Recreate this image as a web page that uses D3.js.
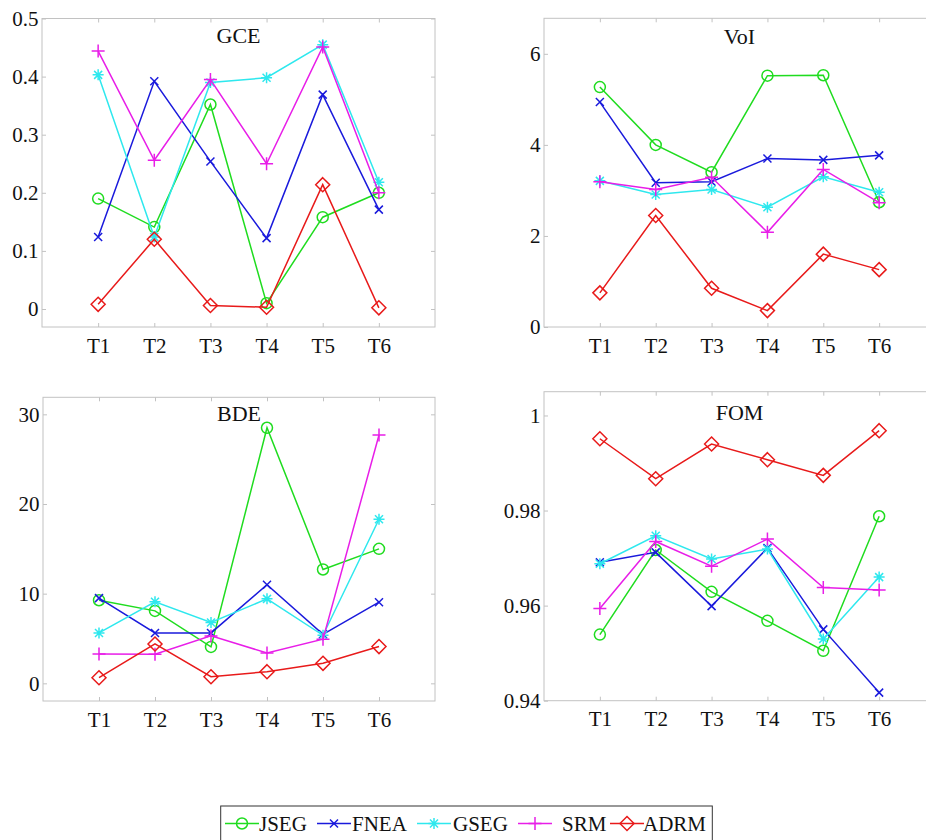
<!DOCTYPE html>
<html>
<head>
<meta charset="utf-8">
<script src="https://cdn.jsdelivr.net/npm/d3@7"></script>
<style>
  body { margin: 0; background: #fff; }
  svg { display: block; }
</style>
</head>
<body>
<svg id="chart" width="926" height="840"></svg>
<script>
// Test images and segmentation methods
const periods = ["T1", "T2", "T3", "T4", "T5", "T6"];
const methods = ["JSEG", "FNEA", "GSEG", "SRM", "ADRM"];

// Global consistency error, one row per method (JSEG, FNEA, GSEG, SRM, ADRM)
const gceValues = [
  [0.190, 0.141, 0.352, 0.010, 0.158, 0.200],
  [0.124, 0.392, 0.254, 0.122, 0.369, 0.171],
  [0.403, 0.124, 0.390, 0.398, 0.455, 0.218],
  [0.444, 0.256, 0.395, 0.250, 0.451, 0.200],
  [0.008, 0.120, 0.006, 0.003, 0.214, 0.002]
];
// Variation of information
const voiValues = [
  [5.27, 4.00, 3.40, 5.52, 5.53, 2.74],
  [4.94, 3.17, 3.19, 3.70, 3.67, 3.77],
  [3.21, 2.91, 3.02, 2.63, 3.30, 2.96],
  [3.19, 3.02, 3.29, 2.08, 3.46, 2.73],
  [0.75, 2.45, 0.85, 0.36, 1.60, 1.26]
];
// Boundary displacement error
const bdeValues = [
  [9.27, 8.08, 4.06, 28.5, 12.7, 15.0],
  [9.50, 5.62, 5.62, 11.0, 5.47, 9.05],
  [5.62, 9.09, 6.78, 9.42, 5.36, 18.3],
  [3.28, 3.24, 5.29, 3.39, 4.92, 27.7],
  [0.63, 4.39, 0.74, 1.30, 2.23, 4.10]
];
// Figure of merit
const fomValues = [
  [0.9539, 0.9717, 0.9629, 0.9568, 0.9505, 0.9788],
  [0.9691, 0.9712, 0.9599, 0.9721, 0.9550, 0.9417],
  [0.9688, 0.9747, 0.9698, 0.9719, 0.9530, 0.9660],
  [0.9594, 0.9735, 0.9683, 0.9740, 0.9638, 0.9633],
  [0.9951, 0.9867, 0.9940, 0.9907, 0.9874, 0.9968]
];

const gceTicks = [0, 0.1, 0.2, 0.3, 0.4, 0.5];
const voiTicks = [0, 2, 4, 6];
const bdeTicks = [0, 10, 20, 30];
const fomTicks = [0.94, 0.96, 0.98, 1];

const colors = ["#1fdc1f", "#1a1adc", "#2ee8ee", "#e81ee8", "#e81a1a"];
const markers = ["circle", "x", "star", "plus", "diamond"];

const serif = "'Liberation Serif', 'Times New Roman', serif";

// Panel geometry
const panels = [
  { title: "GCE", values: gceValues, ticks: gceTicks, domain: [-0.031, 0.5],
    left: 42, right: 435, top: 18.5, bottom: 327, titleY: 43 },
  { title: "VoI", values: voiValues, ticks: voiTicks, domain: [0, 6.78],
    left: 544, right: 935, top: 18.3, bottom: 327, titleY: 44 },
  { title: "BDE", values: bdeValues, ticks: bdeTicks, domain: [-1.97, 31.9],
    left: 43, right: 435, top: 397.3, bottom: 701, titleY: 421 },
  { title: "FOM", values: fomValues, ticks: fomTicks, domain: [0.94, 1.005],
    left: 544, right: 935, top: 391.7, bottom: 700.7, titleY: 419.5 }
];

const svg = d3.select("#chart");
const boxGray = "#c2c2c2";

function markerPath(type, cx, cy) {
  const p = d3.path();
  if (type === "circle") {
    const r = 5.5;
    p.moveTo(cx + r, cy); p.arc(cx, cy, r, 0, 2 * Math.PI);
  } else if (type === "x") {
    const h = 4;
    p.moveTo(cx - h, cy - h); p.lineTo(cx + h, cy + h);
    p.moveTo(cx - h, cy + h); p.lineTo(cx + h, cy - h);
  } else if (type === "plus") {
    const h = 6.5;
    p.moveTo(cx - h, cy); p.lineTo(cx + h, cy);
    p.moveTo(cx, cy - h); p.lineTo(cx, cy + h);
  } else if (type === "star") {
    const h = 5.5, d = 4;
    p.moveTo(cx - h, cy); p.lineTo(cx + h, cy);
    p.moveTo(cx, cy - h); p.lineTo(cx, cy + h);
    p.moveTo(cx - d, cy - d); p.lineTo(cx + d, cy + d);
    p.moveTo(cx - d, cy + d); p.lineTo(cx + d, cy - d);
  } else if (type === "diamond") {
    const h = 7;
    p.moveTo(cx, cy - h); p.lineTo(cx + h, cy); p.lineTo(cx, cy + h);
    p.lineTo(cx - h, cy); p.closePath();
  }
  return p.toString();
}

panels.forEach(panel => {
  const x = d3.scalePoint().domain(periods).range([panel.left, panel.right]).padding(1);
  const y = d3.scaleLinear().domain(panel.domain).range([panel.bottom, panel.top]);
  const g = svg.append("g");

  // Box
  g.append("rect")
    .attr("x", panel.left).attr("y", panel.top)
    .attr("width", panel.right - panel.left).attr("height", panel.bottom - panel.top)
    .attr("fill", "none").attr("stroke", boxGray).attr("stroke-width", 1);

  const styleAxis = sel => {
    sel.select(".domain").remove();
    sel.selectAll(".tick line").attr("stroke", boxGray);
    sel.selectAll(".tick text")
      .style("font-family", serif).style("font-size", "21px").style("fill", "#111");
  };

  g.append("g").attr("transform", `translate(0,${panel.bottom})`)
    .call(d3.axisBottom(x).tickSizeInner(-4).tickSizeOuter(0).tickPadding(10.8))
    .call(styleAxis);
  g.append("g").attr("transform", `translate(0,${panel.top})`)
    .call(d3.axisTop(x).tickSizeInner(-4).tickSizeOuter(0).tickFormat(""))
    .call(styleAxis);
  g.append("g").attr("transform", `translate(${panel.left},0)`)
    .call(d3.axisLeft(y).tickValues(panel.ticks).tickFormat(d => String(d))
      .tickSizeInner(-4).tickSizeOuter(0).tickPadding(3.5))
    .call(styleAxis);
  g.append("g").attr("transform", `translate(${panel.right},0)`)
    .call(d3.axisRight(y).tickValues(panel.ticks).tickFormat("")
      .tickSizeInner(-4).tickSizeOuter(0))
    .call(styleAxis);

  g.append("text")
    .attr("x", (panel.left + panel.right) / 2).attr("y", panel.titleY)
    .attr("text-anchor", "middle")
    .style("font-family", serif).style("font-size", "22px").style("fill", "#111")
    .text(panel.title);

  const line = d3.line().x((d, i) => x(periods[i])).y(d => y(d));

  panel.values.forEach((series, k) => {
    const sg = g.append("g").attr("stroke", colors[k]).attr("fill", "none")
      .attr("stroke-width", 1.5);
    sg.append("path").attr("d", line(series));
    sg.selectAll("path.m").data(series).join("path").attr("class", "m")
      .attr("d", (d, i) => markerPath(markers[k], x(periods[i]), y(d)));
  });
});

// Legend
const legendLineX = [225, 317, 417, 518, 610];
const legendTextX = [259, 352, 453, 562, 643];
const legendY = 823.5;
const lg = svg.append("g");
lg.append("rect").attr("x", 220.7).attr("y", 806).attr("width", 491.6).attr("height", 40)
  .attr("fill", "#fff").attr("stroke", "#333").attr("stroke-width", 1);
methods.forEach((name, k) => {
  const x0 = legendLineX[k], x1 = x0 + 34;
  const ig = lg.append("g").attr("stroke", colors[k]).attr("fill", "none").attr("stroke-width", 1.5);
  ig.append("line").attr("x1", x0).attr("x2", x1).attr("y1", legendY).attr("y2", legendY);
  ig.append("path").attr("d", markerPath(markers[k], (x0 + x1) / 2, legendY));
  lg.append("text").attr("x", legendTextX[k]).attr("y", legendY + 7.5)
    .style("font-family", serif).style("font-size", "21px").style("fill", "#111")
    .text(name);
});
</script>
</body>
</html>
